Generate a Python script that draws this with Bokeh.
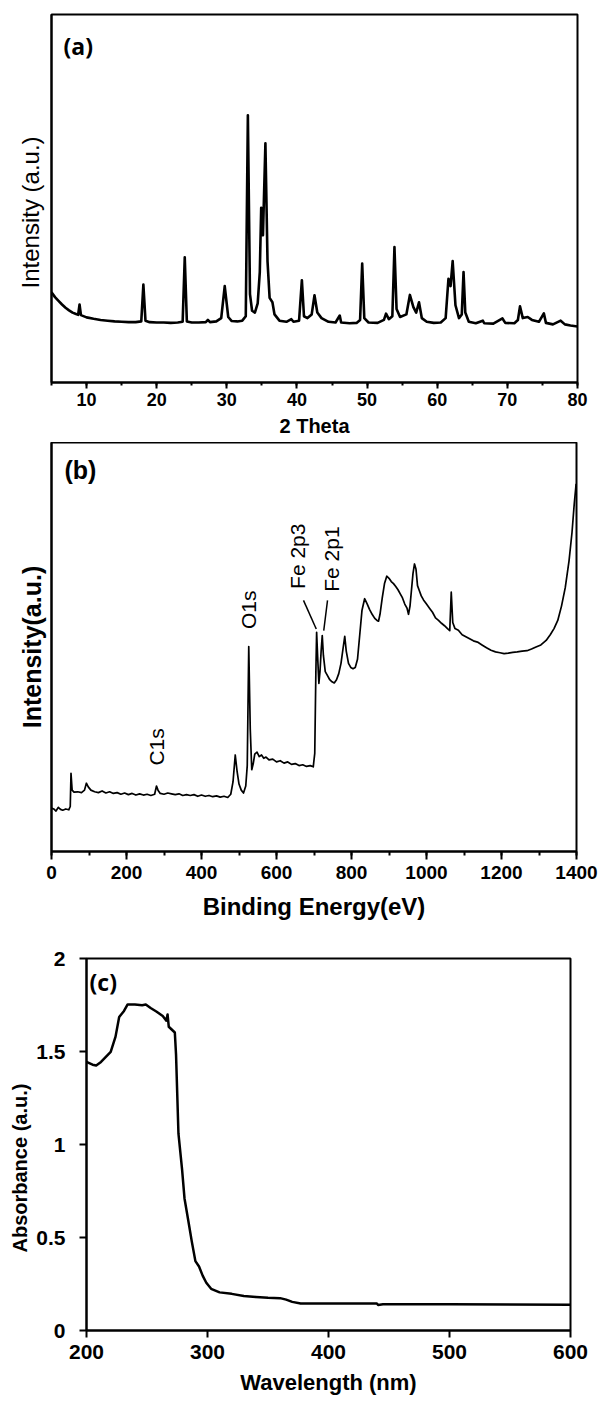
import math
from bokeh.plotting import figure
from bokeh.layouts import column
from bokeh.models import (Range1d, SingleIntervalTicker, FixedTicker, Label, Title,
                          NumeralTickFormatter, ColumnDataSource)
from bokeh.core.properties import value
from bokeh.embed import file_html
from bokeh.resources import INLINE

# ---------------- data: (a) XRD ----------------
xrd_theta = [5.0, 5.5, 6.0, 6.5, 7.0, 7.5, 8.0, 8.5, 8.8, 9.0, 9.2, 10, 11, 12, 13, 14, 15, 16, 17,
             17.8, 18.1, 18.4, 19, 20, 21, 22, 23, 23.7, 24.0, 24.3, 25, 26, 27, 27.3, 27.6, 28.5,
             29.2, 29.7, 30.2, 30.7, 31.5, 32.2, 32.7, 33.0, 33.3, 33.6, 34.0, 34.4, 34.7, 34.9,
             35.15, 35.5, 35.8, 36.1, 36.5, 36.8, 37.5, 38.5, 39.2, 39.5, 40.3, 40.7, 41.0, 41.5,
             42.1, 42.5, 42.9, 43.5, 44.5, 45.5, 46.1, 46.3, 47.5, 48.5, 49.0, 49.3, 49.6, 50.2,
             51.5, 52.4, 52.7, 53.1, 53.6, 53.9, 54.2, 54.7, 55.6, 56.1, 56.6, 57.0, 57.4, 57.8,
             58.5, 59.5, 60.5, 61.2, 61.6, 61.9, 62.2, 62.6, 63.1, 63.5, 63.75, 64.0, 64.5, 65.5,
             66.5, 66.7, 68, 69.3, 69.7, 71, 71.5, 71.8, 72.2, 72.9, 73.5, 74.5, 75.2, 75.5, 76.5,
             77.6, 78.2, 79, 80]
xrd_intensity = [245, 232, 222, 212, 203, 196, 190, 186, 184, 212, 183, 177, 173, 170, 168, 166, 165, 164, 164,
                 166, 266, 168, 164, 163, 163, 162, 163, 165, 340, 166, 163, 163, 164, 170, 164, 166,
                 175, 262, 178, 167, 166, 168, 180, 726, 240, 195, 190, 215, 300, 475,
                 400, 650, 330, 230, 218, 185, 168, 165, 172, 165, 168, 278, 180, 175,
                 185, 237, 190, 175, 165, 163, 182, 163, 161, 162, 170, 323, 175, 163,
                 162, 170, 187, 172, 180, 368, 200, 178, 185, 238, 205, 190, 218, 175,
                 165, 162, 163, 175, 282, 262, 330, 210, 175, 185, 300, 190, 165, 161,
                 168, 161, 160, 174, 162, 161, 170, 207, 175, 178, 170, 165, 188, 162, 158,
                 168, 158, 155, 152]

# ---------------- data: (b) XPS survey ----------------
xps_energy = [0, 6, 12, 18, 24, 30, 38, 46, 50, 52, 55, 60, 70, 80, 88, 93, 98, 105, 115, 125, 135,
              145, 155, 165, 175, 185, 195, 205, 215, 225, 235, 245, 255, 265, 275, 280, 284, 290,
              300, 310, 320, 330, 340, 350, 360, 370, 380, 390, 400, 410, 420, 430, 440, 450, 460,
              470, 478, 484, 490, 495, 500, 506, 512, 518, 522, 526, 530, 534, 538, 542, 548, 554,
              560, 566, 572, 580, 590, 600, 610, 620, 630, 640, 650, 660, 670, 680, 690, 698, 702,
              705, 707, 710, 713, 716, 719, 722, 725, 730, 736, 742, 748, 754, 760, 766, 772, 778,
              782, 786, 792, 798, 804, 810, 816, 822, 828, 835, 842, 848, 855, 862, 868, 872, 876,
              882, 888, 894, 900, 906, 912, 918, 924, 930, 936, 942, 948, 952, 956, 960, 964, 968,
              972, 976, 980, 986, 992, 1000, 1008, 1016, 1024, 1032, 1040, 1048, 1056, 1062, 1066,
              1070, 1076, 1085, 1095, 1105, 1115, 1125, 1136, 1148, 1160, 1172, 1184, 1196, 1207,
              1218, 1230, 1242, 1255, 1268, 1280, 1292, 1305, 1319, 1330, 1340, 1350, 1360, 1370,
              1380, 1388, 1394, 1399]
xps_intensity = [106, 104, 99, 108, 103, 101, 104, 102, 110, 191, 150, 145, 146, 144, 150, 167, 158, 150, 146, 144, 148,
                 143, 146, 142, 144, 140, 143, 139, 142, 138, 141, 138, 140, 137, 140, 160, 150, 142,
                 140, 143, 141, 139, 141, 137, 139, 137, 139, 135, 138, 135, 137, 134, 136, 133, 135,
                 132, 140, 170, 236, 195, 165, 150, 143, 160, 210, 501, 300, 200, 215, 238, 243, 232,
                 236, 228, 231, 224, 226, 219, 222, 216, 219, 213, 215, 210, 212, 208, 210, 207, 240,
                 440, 536, 470, 411, 440, 490, 528, 480, 440, 430, 420, 415, 412, 420, 435, 460, 500,
                 526, 490, 460, 450, 447, 450, 470, 530, 590, 618, 605, 592, 580, 570, 565, 563, 580,
                 620, 655, 673, 668, 660, 655, 648, 640, 630, 620, 605, 595, 580, 600, 640, 680, 703,
                 690, 650, 640, 625, 615, 605, 595, 585, 571, 565, 558, 552, 545, 540, 634,
                 560, 545, 541, 530, 525, 520, 515, 512, 505, 498, 492, 488, 486, 484,
                 485, 487, 488, 490, 491, 495, 500, 505, 516, 530, 545, 565, 600, 645,
                 710, 780, 850, 899]

xps_labels = ["C1s", "O1s", "Fe 2p3", "Fe 2p1"]
xps_label_x = [279, 526, 655, 746]
xps_label_y = [210, 544, 642, 635]
leader_x0 = [672, 736]
leader_y0 = [614, 614]
leader_x1 = [706, 726]
leader_y1 = [544, 540]

# ---------------- data: (c) UV-Vis ----------------
uv_wavelength = [200, 205, 208, 212, 220, 224, 227, 231, 234, 240, 246, 249, 253, 258, 263, 266, 267,
                 268, 273, 274, 276, 279, 281, 284, 287, 290, 293, 296, 299, 303, 310, 320, 330, 340,
                 350, 360, 365, 370, 377, 400, 440, 441, 445, 500, 600]
uv_absorbance = [1.444, 1.429, 1.425, 1.444, 1.498, 1.58, 1.685, 1.718, 1.753, 1.753, 1.749, 1.753, 1.734,
                 1.714, 1.691, 1.666, 1.699, 1.633, 1.602, 1.483, 1.058, 0.865, 0.710, 0.595, 0.479,
                 0.373, 0.344, 0.295, 0.257, 0.224, 0.205, 0.197, 0.185, 0.180, 0.176, 0.174, 0.166,
                 0.154, 0.145, 0.145, 0.145, 0.137, 0.141, 0.141, 0.139]

ARIAL = "Liberation Sans"


def make_fig(xr, yr, fw, fh, left, right, top, bottom):
    p = figure(x_range=xr, y_range=yr, frame_width=fw, frame_height=fh,
               output_backend="svg", toolbar_location=None,
               min_border_left=left, min_border_right=right,
               min_border_top=top, min_border_bottom=bottom)
    p.frame_align = False
    p.grid.visible = False
    p.outline_line_color = "black"
    p.outline_line_width = 2
    p.outline_line_alpha = 1
    p.background_fill_color = "white"
    p.border_fill_color = "white"
    for ax in (p.xaxis[0], p.yaxis[0]):
        ax.axis_line_width = 2
        ax.axis_line_color = "black"
        ax.major_tick_line_width = 2
        ax.minor_tick_line_width = 2
        ax.major_tick_in = 0
        ax.minor_tick_in = 0
        ax.major_label_text_font = ARIAL
        ax.major_label_text_font_style = "bold"
        ax.major_label_text_color = "black"
        ax.axis_label_text_font = ARIAL
        ax.axis_label_text_font_style = "bold"
        ax.axis_label_text_color = "black"
    return p


def side_title(p, text, size, style, align, offset, standoff):
    t = Title(text=text, align=align, offset=offset, standoff=standoff,
              text_font=ARIAL, text_font_size=size, text_font_style=style,
              text_color="black", vertical_align="middle")
    p.add_layout(t, "left")


# ---------------- panel (a) ----------------
p1 = make_fig(Range1d(5, 80), Range1d(0, 1000), 526, 368, 51, 21, 14, 60)
p1.xaxis.ticker = SingleIntervalTicker(interval=10, num_minor_ticks=2)
p1.xaxis.major_tick_out = 6
p1.xaxis.minor_tick_out = 3
p1.xaxis.major_label_text_font_size = "18px"
p1.xaxis.major_label_standoff = 4
p1.xaxis.axis_label = "2 Theta"
p1.xaxis.axis_label_text_font_size = "20px"
p1.xaxis.axis_label_standoff = 6
p1.yaxis.ticker = FixedTicker(ticks=[])
p1.yaxis.major_tick_out = 0
p1.line(xrd_theta, xrd_intensity, line_color="black", line_width=2.6, line_join="round")
side_title(p1, "Intensity (a.u.)", "24px", "normal", "left", 94, 14)
p1.add_layout(Label(x=6.71, y=957, text="(a)", text_align="left", text_baseline="top",
                    text_font="Open Sans", text_font_style="bold", text_font_size="23px",
                    text_color="black"))

# ---------------- panel (b) ----------------
p2 = make_fig(Range1d(0, 1400), Range1d(0, 1000), 525, 409, 51, 22, 0, 75)
p2.xaxis.ticker = SingleIntervalTicker(interval=200, num_minor_ticks=2)
p2.xaxis.major_tick_out = 8
p2.xaxis.minor_tick_out = 4
p2.xaxis.major_label_text_font_size = "19px"
p2.xaxis.major_label_standoff = 6
p2.xaxis.axis_label = "Binding Energy(eV)"
p2.xaxis.axis_label_text_font_size = "24px"
p2.xaxis.axis_label_standoff = 11
p2.yaxis.ticker = FixedTicker(ticks=[])
p2.yaxis.major_tick_out = 0
p2.line(xps_energy, xps_intensity, line_color="black", line_width=1.7, line_join="round")
lab_src = ColumnDataSource(dict(x=xps_label_x, y=xps_label_y, t=xps_labels))
p2.text(x="x", y="y", text="t", source=lab_src, angle=math.pi / 2, text_align="left",
        text_baseline="middle", text_font=value(ARIAL), text_font_size="21px", text_color="black")
p2.segment(x0=leader_x0, y0=leader_y0, x1=leader_x1, y1=leader_y1, line_color="black", line_width=1.5)
side_title(p2, "Intensity(a.u.)", "25px", "bold", "center", 0, 10)
p2.add_layout(Label(x=34.7, y=968, text="(b)", text_align="left", text_baseline="top",
                    text_font=ARIAL, text_font_style="bold", text_font_size="25px",
                    text_color="black"))

# ---------------- panel (c) ----------------
p3 = make_fig(Range1d(200, 600), Range1d(0, 2), 484, 372, 86, 28, 32, 71)
p3.xaxis.ticker = SingleIntervalTicker(interval=100, num_minor_ticks=0)
p3.xaxis.major_tick_out = 7
p3.xaxis.major_label_text_font_size = "21px"
p3.xaxis.major_label_standoff = 7
p3.xaxis.axis_label = "Wavelength (nm)"
p3.xaxis.axis_label_text_font_size = "22px"
p3.xaxis.axis_label_standoff = 8
p3.yaxis.ticker = SingleIntervalTicker(interval=0.5, num_minor_ticks=0)
p3.yaxis.formatter = NumeralTickFormatter(format="0.[0]")
p3.yaxis.major_tick_out = 7
p3.yaxis.major_label_text_font_size = "21px"
p3.yaxis.major_label_standoff = 14
p3.line(uv_wavelength, uv_absorbance, line_color="black", line_width=2.5, line_join="round")
side_title(p3, "Absorbance (a.u.)", "20px", "bold", "left", 78, 4)
p3.add_layout(Label(x=202.5, y=1.957, text="(c)", text_align="left", text_baseline="top",
                    text_font="Open Sans", text_font_style="bold", text_font_size="23px",
                    text_color="black"))

layout = column(p1, p2, p3, spacing=0)
open("out.html", "w").write(file_html(layout, INLINE))
